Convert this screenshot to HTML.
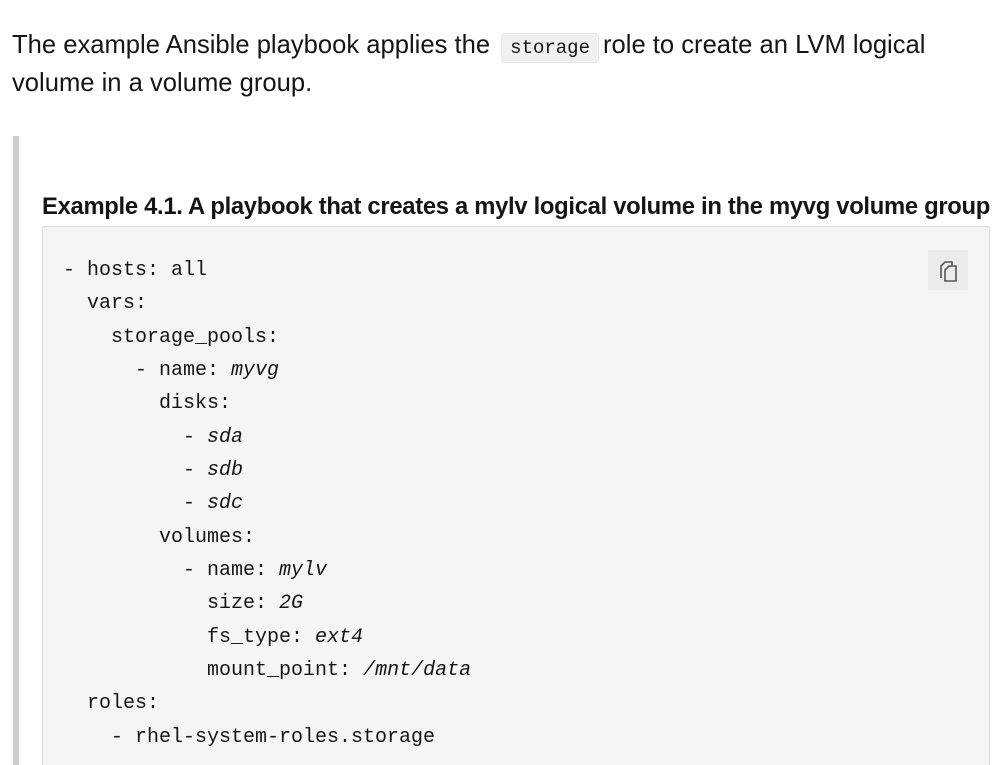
<!DOCTYPE html>
<html><head><meta charset="utf-8"><style>
html,body{margin:0;width:999px;height:765px;overflow:hidden}
body{background:#fff;font-family:"Liberation Sans",sans-serif;color:#151515;position:relative}
.p{position:absolute;left:12px;top:26px;font-size:25.6px;line-height:38px;width:980px}
code.i{font-family:"Liberation Mono",monospace;font-size:19px;line-height:1;background:#f0f0f0;border:1px solid #e6e6e6;padding:3px 8px;border-radius:3px;margin:0 4px}
.bar{position:absolute;left:13px;top:136px;width:6px;height:629px;background:#ccc}
.t{position:absolute;left:42px;top:193px;font-size:23.8px;font-weight:bold;white-space:nowrap;letter-spacing:-0.3px}
.code{position:absolute;left:42px;top:226px;width:946px;height:560px;background:#f5f5f5;border:1px solid #e0e0e0}
pre{position:absolute;left:20px;top:27px;margin:0;font-family:"Liberation Mono",monospace;font-size:20px;line-height:33.35px;color:#151515}
i{font-style:italic}
.cp{position:absolute;left:885px;top:23px;width:40px;height:40px;background:#ebebeb}
</style></head><body>
<div class="p">The example Ansible playbook applies the <code class="i">storage</code>role to create an LVM logical volume in a volume group.</div>
<div class="bar"></div>
<div class="t">Example 4.1. A playbook that creates a mylv logical volume in the myvg volume group</div>
<div class="code">
<pre>- hosts: all
  vars:
    storage_pools:
      - name: <i>myvg</i>
        disks:
          - <i>sda</i>
          - <i>sdb</i>
          - <i>sdc</i>
        volumes:
          - name: <i>mylv</i>
            size: <i>2G</i>
            fs_type: <i>ext4</i>
            mount_point: <i>/mnt/data</i>
  roles:
    - rhel-system-roles.storage</pre>
<div class="cp"><svg width="40" height="40" viewBox="0 0 40 40"><path d="M13 28V16l4-4h7v4" fill="none" stroke="#555" stroke-width="1.6"/><path d="M17 31V20l4-4h7v15z" fill="#ebebeb" stroke="#555" stroke-width="1.6"/></svg></div>
</div>
</body></html>
